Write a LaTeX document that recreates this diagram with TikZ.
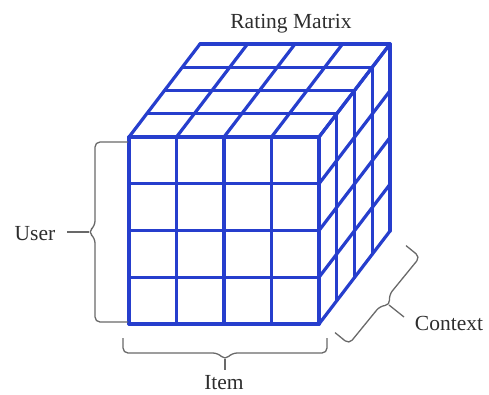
\documentclass[tikz,border=0pt]{standalone}
\usepackage{fontspec}
\setmainfont{Liberation Serif}
\usetikzlibrary{calc}
\definecolor{cubeblue}{RGB}{38,62,205}
\definecolor{bracegray}{RGB}{105,105,105}
\definecolor{labelgray}{RGB}{45,45,45}
\begin{document}
\begin{tikzpicture}[x=1pt,y=-1pt,
  grid/.style={draw=cubeblue,line width=3.2pt,line cap=round,line join=round},
  bracepath/.style={draw=bracegray,line width=1.3pt,rounded corners=5pt},
  lbl/.style={font=\fontsize{21.5}{24}\selectfont,text=labelgray,inner sep=0pt,anchor=base}]
\useasboundingbox (0,0) rectangle (489,394);
% cube geometry
\def\fx{129}\def\fy{137}\def\fw{190}\def\fh{187}
\def\dx{71}\def\dy{-93}
% front face
\foreach \i in {0,...,4}{
  \draw[grid] ({\fx+\i*\fw/4},\fy) -- ({\fx+\i*\fw/4},{\fy+\fh});
  \draw[grid] (\fx,{\fy+\i*\fh/4}) -- ({\fx+\fw},{\fy+\i*\fh/4});
}
% top face
\foreach \i in {0,...,4}{
  \draw[grid] ({\fx+\i*\fw/4},\fy) -- ++(\dx,\dy);
  \draw[grid] ({\fx+\i*\dx/4},{\fy+\i*\dy/4}) -- ++(\fw,0);
}
% right face
\foreach \i in {0,...,4}{
  \draw[grid] ({\fx+\fw+\i*\dx/4},{\fy+\i*\dy/4}) -- ++(0,\fh);
  \draw[grid] ({\fx+\fw},{\fy+\i*\fh/4}) -- ++(\dx,\dy);
}
% braces
\draw[bracepath] (128,142) -- (95,142) -- (95,226) -- (88,232) -- (95,238) -- (95,322) -- (128,322);
\draw[bracepath] (89,232) -- (67,232);
\draw[bracepath] (123,338) -- (123,353) -- (218,353) -- (225,360) -- (232,353) -- (327,353) -- (327,338);
\draw[bracepath] (225,359) -- (225,370);
\draw[bracepath] (335,332.6) -- (349,344) -- (380,306) -- (390,305) -- (389,295) -- (420,257) -- (406,245.6);
\draw[bracepath] (389,305) -- (404,317);
% labels
\node[lbl] (title) at (291,28) {Rating Matrix};
\node[lbl] (user) at (35,240) {User};
\node[lbl] (item) at (224,389) {Item};
\node[lbl] (context) at (449,330) {Context};
\end{tikzpicture}
\end{document}
